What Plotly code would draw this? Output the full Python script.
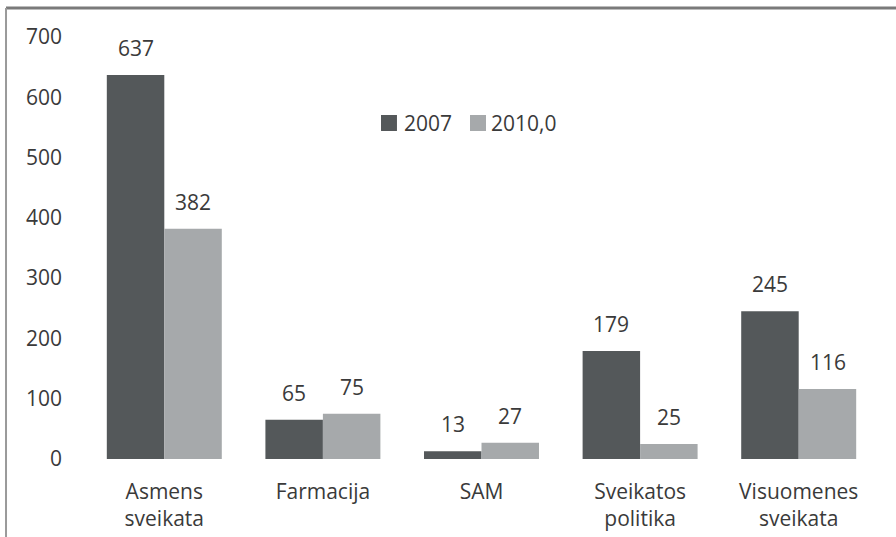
import plotly.graph_objects as go

categories = ["Asmens<br>sveikata", "Farmacija", "SAM", "Sveikatos<br>politika", "Visuomenes<br>sveikata"]
series_names = ["2007", "2010,0"]
values_2007 = [637, 65, 13, 179, 245]
values_2010 = [382, 75, 27, 25, 116]
y_ticks = [0, 100, 200, 300, 400, 500, 600, 700]

colors = ["#54585a", "#a6a9ab"]
text_color = "#3a3a3a"
FONT = "Open Sans"
FS = 21

fig = go.Figure()
for name, vals, col in zip(series_names, [values_2007, values_2010], colors):
    fig.add_trace(go.Bar(x=categories, y=vals, name=name, marker=dict(color=col, line=dict(width=0)),
                         showlegend=False))

# data labels
for vals, shift in zip([values_2007, values_2010], [-28.8, 28.8]):
    for c, v in zip(categories, vals):
        fig.add_annotation(x=c, y=v, text=str(v), showarrow=False, xshift=shift, yshift=11,
                           yanchor="bottom", font=dict(family=FONT, size=FS, color=text_color))

# manual legend
leg = [(0.3733, 0.3934, 0.3997), (0.4855, 0.5057, 0.5095)]
for (x0, x1, tx), name, col in zip(leg, series_names, colors):
    fig.add_shape(type="rect", xref="paper", yref="paper", x0=x0, x1=x1, y0=0.7773, y1=0.8152,
                  fillcolor=col, line=dict(width=0))
    fig.add_annotation(xref="paper", yref="paper", x=tx, y=0.7962, text=name, showarrow=False,
                       xanchor="left", yanchor="middle", font=dict(family=FONT, size=FS, color=text_color))

# frame lines (top and left)
fig.add_shape(type="line", xref="paper", yref="paper", x0=-0.0996, x1=1.03, y0=1.0687, y1=1.0687,
              line=dict(color="#7a7a7a", width=3))
fig.add_shape(type="line", xref="paper", yref="paper", x0=-0.0996, x1=-0.0996, y0=1.0687, y1=-0.2,
              line=dict(color="#9a9a9a", width=2))

fig.update_layout(
    width=896, height=537,
    margin=dict(l=85, r=18, t=37, b=78, autoexpand=False),
    paper_bgcolor="white", plot_bgcolor="white",
    barmode="group", bargap=0.275, bargroupgap=0,
    font=dict(family=FONT, size=FS, color=text_color),
    xaxis=dict(showgrid=False, showline=False, zeroline=False, ticks="", ticklabelstandoff=18,
               automargin=False, tickfont=dict(family=FONT, size=FS, color=text_color)),
    yaxis=dict(range=[0, 700], tickvals=y_ticks, showgrid=False, showline=False, zeroline=False,
               ticks="", ticklabelstandoff=22, automargin=False,
               tickfont=dict(family=FONT, size=FS, color=text_color)),
)

fig.write_html("out.html", config={"displayModeBar": False},
               post_script="document.body.style.margin='0';document.body.style.overflow='hidden';")
